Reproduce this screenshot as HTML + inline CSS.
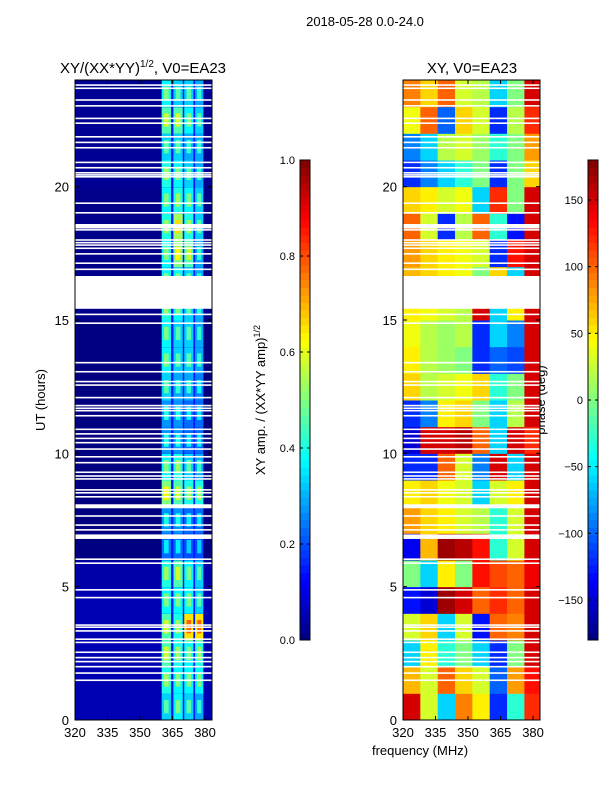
<!DOCTYPE html>
<html><head><meta charset="utf-8"><style>
body{margin:0;background:#fff;width:600px;height:800px;overflow:hidden;font-family:"Liberation Sans",sans-serif}
svg text{font-family:"Liberation Sans",sans-serif;fill:#000}
</style></head><body>
<svg id="fig" width="600" height="800" xmlns="http://www.w3.org/2000/svg">
<text x="365" y="26" font-size="13" text-anchor="middle">2018-05-28 0.0-24.0</text>
<text x="143" y="73" font-size="15" text-anchor="middle">XY/(XX*YY)<tspan font-size="10" dy="-6">1/2</tspan><tspan dy="6">, V0=EA23</tspan></text>
<text x="472" y="73" font-size="15" text-anchor="middle">XY, V0=EA23</text>
<text transform="translate(45,400) rotate(-90)" font-size="13" text-anchor="middle">UT (hours)</text>
<text x="420" y="755" font-size="13" text-anchor="middle">frequency (MHz)</text>
<text transform="translate(265,400) rotate(-90)" font-size="13" text-anchor="middle">XY amp. / (XX*YY amp)<tspan font-size="9" dy="-5">1/2</tspan></text>
<text transform="translate(545,400) rotate(-90)" font-size="13" text-anchor="middle">phase (deg)</text>
<g id="g"></g>
</svg>
<script>
const freqTicks=[320,335,350,365,380];
const hourTicks=[0,5,10,15,20];
const ampTicks=[0.0,0.2,0.4,0.6,0.8,1.0];
const phaseTicks=[-150,-100,-50,0,50,100,150];
// thin white gaps (hours, centres)
const gapCenters=[23.81,23.69,23.25,23.03,22.56,22.38,21.87,21.66,21.46,20.91,20.71,20.52,20.44,20.37,19.38,19.02,18.38,18.0,17.9,17.81,17.69,17.48,17.13,16.9,15.21,14.88,13.4,13.06,12.69,12.56,12.09,11.79,11.69,11.6,11.41,10.9,10.73,10.56,10.4,10.16,9.87,9.65,9.29,9.15,9.04,8.63,8.52,8.37,7.65,7.31,7.13,6.03,5.88,4.88,4.59,3.56,3.48,3.34,3.03,2.91,2.54,2.34,2.19,2.0,1.76,1.49];
// wide gaps [start,end] hours
const wideGapStarts=[18.43,15.42,7.94,6.79];
const wideGapEnds=[18.6,16.65,8.09,6.96];
// amplitude stripes (MHz ranges)
const stripeStarts=[360.0,365.4,370.4,375.4];
const stripeEnds=[364.3,369.7,374.6,379.2];
// stripe amplitude per hour row (row 0 = 0-1h), 4 stripes
const stripeAmp=[
[0.38,0.42,0.38,0.34],[0.45,0.42,0.42,0.42],[0.5,0.45,0.42,0.45],[0.5,0.45,0.7,0.7],
[0.42,0.42,0.42,0.38],[0.45,0.5,0.42,0.38],[0.28,0.28,0.25,0.25],[0.32,0.32,0.28,0.28],
[0.55,0.5,0.45,0.45],[0.42,0.45,0.38,0.34],[0.32,0.32,0.28,0.28],[0.32,0.32,0.28,0.28],
[0.38,0.34,0.34,0.3],[0.42,0.38,0.38,0.34],[0.42,0.38,0.38,0.34],[0.45,0.42,0.38,0.34],
[0.42,0.42,0.38,0.34],[0.42,0.55,0.5,0.34],[0.45,0.58,0.45,0.38],[0.42,0.45,0.42,0.38],
[0.45,0.42,0.38,0.34],[0.38,0.38,0.34,0.34],[0.5,0.5,0.42,0.38],[0.42,0.38,0.38,0.34]];
const bgAmp=[0.05,0.05,0.05,0.05,0.05,0.04,0.0,0.0,0.0,0.0,0.0,0.0,0.0,0.0,0.0,0.01,0.01,0.01,0.01,0.01,0.02,0.02,0.02,0.02];
// phase grid: column edges (MHz) and values per hour row
const phaseEdges=[320,328,336,344,352,360,368,376,383.2];
const phase=[
[150,30,-60,90,50,-120,-30,120],[70,30,100,60,30,-100,80,130],[-60,50,-30,0,-60,-120,0,150],
[30,60,-60,30,-130,100,90,150],[-130,-150,170,150,100,120,100,150],[0,-60,50,0,130,110,100,140],
[-140,70,170,160,130,-30,30,150],[80,60,50,30,20,-30,30,150],[50,60,40,30,-60,30,50,150],
[-120,-120,100,30,-90,150,-60,150],[-150,150,150,160,100,-60,150,120],[-120,-90,50,60,0,-60,20,150],
[60,20,30,40,60,-30,0,150],[50,20,10,0,-120,-100,-110,150],[40,20,10,20,-120,-60,-90,150],
[50,40,30,20,150,-60,50,150],[70,60,50,40,0,60,-60,150],[80,60,50,40,30,-120,130,150],
[100,30,-120,20,100,-30,-130,150],[60,50,30,40,-60,120,0,150],[-120,-90,-60,-30,0,-120,0,60],
[-90,-60,20,30,10,-30,0,80],[40,100,-100,60,30,-120,20,120],[90,60,100,30,20,-60,0,150]];

const NS="http://www.w3.org/2000/svg";
const G=document.getElementById('g');
function el(t,a,p){const e=document.createElementNS(NS,t);for(const k in a)e.setAttribute(k,a[k]);(p||G).appendChild(e);return e;}
function jet(v){v=Math.max(0,Math.min(1,v));
 const r=Math.max(0,Math.min(1,1.5-Math.abs(4*v-3))),g=Math.max(0,Math.min(1,1.5-Math.abs(4*v-2))),b=Math.max(0,Math.min(1,1.5-Math.abs(4*v-1)));
 return `rgb(${Math.round(r*255)},${Math.round(g*255)},${Math.round(b*255)})`;}
const Y0=720,Y1=80,F0=320,F1=383.2;
const yS=h=>Y0-(h/24)*(Y0-Y1);
function xS(px0,f){return px0+(f-F0)/(F1-F0)*137;}
const panels=[{x:75,name:'amp'},{x:403,name:'phase'}];

// left amplitude panel
const LP=el('g',{});


for(let r=0;r<24;r++){
 const c=el('rect',{x:75,y:yS(r+1),width:137,height:yS(r)-yS(r+1)+0.5,fill:jet(bgAmp[r])},LP);
 
 
 const band=el('rect',{x:xS(75,stripeStarts[0]),y:yS(r+1),width:xS(75,stripeEnds[3])-xS(75,stripeStarts[0]),height:yS(r)-yS(r+1)+0.5,fill:jet(0.15)},LP);
 
 
 for(let s=0;s<stripeStarts.length;s++){
  const x0=xS(75,stripeStarts[s]),x1=xS(75,stripeEnds[s]);
  const v=stripeAmp[r][s];
  const h0=yS(r+1),h1=yS(r);
  const q=el('rect',{x:x0,y:h0,width:x1-x0,height:h1-h0+0.5,fill:jet(v-0.05)},LP);
  
  
  const q2=el('rect',{x:x0+(x1-x0)*0.25,y:h0+(h1-h0)*0.25,width:(x1-x0)*0.5,height:(h1-h0)*0.5,fill:jet(v+0.08)},LP);
  
  
 }
}
// right phase panel
const RP=el('g',{});


for(let r=0;r<24;r++)for(let c=0;c<phase[r].length;c++){
 const x0=xS(403,phaseEdges[c]),x1=xS(403,phaseEdges[c+1]);
 const q=el('rect',{x:x0,y:yS(r+1),width:x1-x0+0.3,height:yS(r)-yS(r+1)+0.5,fill:jet((phase[r][c]+180)/360)},RP);
 
 
}
// gaps
for(const p of panels){
 for(const h of gapCenters){const g=el('rect',{x:p.x,y:yS(h)-0.8,width:137,height:1.6,fill:'#fff'});
  
  }
 for(let i=0;i<wideGapStarts.length;i++){const g=el('rect',{x:p.x,y:yS(wideGapEnds[i]),width:137,height:yS(wideGapStarts[i])-yS(wideGapEnds[i]),fill:'#fff'});
  
  }
 const fr=el('rect',{x:p.x,y:Y1,width:137,height:Y0-Y1,fill:'none',stroke:'#000','stroke-width':1});
 
 
 for(const f of freqTicks){const x=xS(p.x,f);
  el('line',{x1:x,x2:x,y1:Y0,y2:Y0-4,stroke:'#000'});el('line',{x1:x,x2:x,y1:Y1,y2:Y1+4,stroke:'#000'});
  const t=el('text',{x:x,y:Y0+17,'font-size':13,'text-anchor':'middle'});t.textContent=f;
  
  }
 for(const h of hourTicks){const y=yS(h);
  el('line',{x1:p.x,x2:p.x+4,y1:y,y2:y,stroke:'#000'});el('line',{x1:p.x+137,x2:p.x+133,y1:y,y2:y,stroke:'#000'});
  const t=el('text',{x:p.x-6,y:y+5,'font-size':13,'text-anchor':'end'});t.textContent=h;
  
  }
}
// colorbars
function colorbar(x,lo,hi,ticks,name,fmt){
 const cb=el('g',{});
 
 
 const n=64;for(let i=0;i<n;i++){el('rect',{x:x,y:640-(i+1)*480/n,width:10,height:480/n+0.5,fill:jet((i+0.5)/n)},cb);}
 el('rect',{x:x,y:160,width:10,height:480,fill:'none',stroke:'#000','stroke-width':1},cb);
 for(const v of ticks){const y=640-(v-lo)/(hi-lo)*480;
  el('line',{x1:x,x2:x+3,y1:y,y2:y,stroke:'#000'},cb);el('line',{x1:x+10,x2:x+7,y1:y,y2:y,stroke:'#000'},cb);
  const t=el('text',{x:x-5,y:y+4,'font-size':11,'text-anchor':'end'},cb);t.textContent=fmt(v);
  
  }
}
colorbar(300,0,1,ampTicks,'amplitude-colorbar',v=>v.toFixed(1));
colorbar(588,-180,180,phaseTicks,'phase-colorbar',v=>v<0?'\u2212'+(-v):String(v));
</script>
</body></html>
